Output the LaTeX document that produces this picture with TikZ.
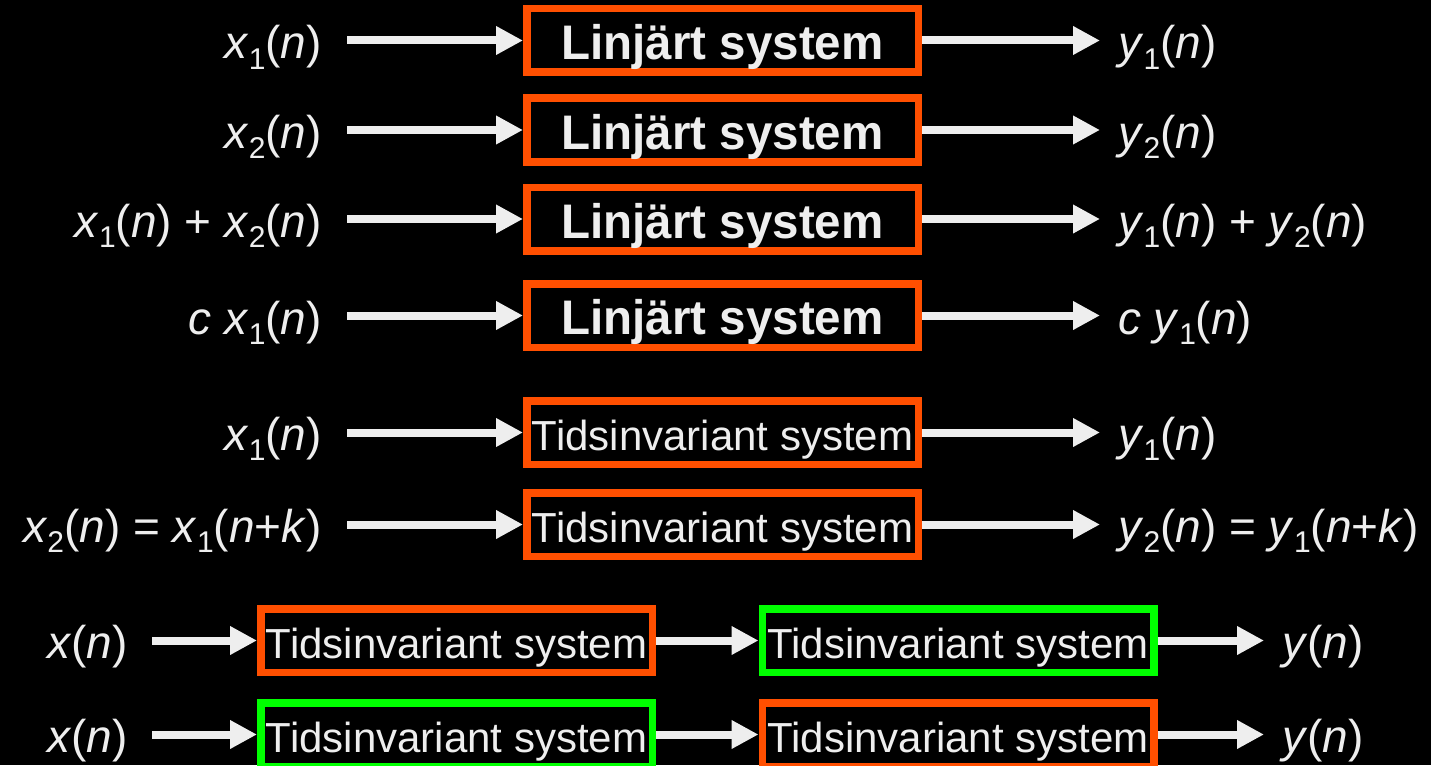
\documentclass[tikz,border=0pt]{standalone}
\usepackage{fontspec}
\setmainfont{Liberation Sans}
\newfontfamily\boxbold{Liberation Sans Bold}[FakeStretch=0.98]
\usetikzlibrary{arrows.meta}
\definecolor{fg}{HTML}{EEEEEE}
\definecolor{org}{HTML}{FF4F00}
\definecolor{grn}{HTML}{00FF00}
\newcommand{\sbx}[1]{\raisebox{-0.22em}{\fontsize{30}{30}\selectfont #1}}
\newcommand{\iv}[1]{\textit{#1}}
\begin{document}
\begin{tikzpicture}[x=1pt,y=-1pt,
  sysbox/.style={line width=7.5pt, minimum width=391.5pt, minimum height=63.5pt, inner sep=0pt, text=fg},
  lin/.style={sysbox, draw=org, font=\fontsize{48.5}{50}\boxbold, text height=40pt, text depth=2pt},
  tis/.style={sysbox, font=\fontsize{42}{48}\selectfont, text height=38pt, text depth=3pt},
  lab/.style={text=fg, font=\fontsize{46}{50}\selectfont, inner sep=0pt},
  arr/.style={draw=fg, line width=8pt, -{Triangle[length=27pt,width=27pt]}},
  arrl/.style={arr, shorten <=25pt},
  arrr/.style={arr, shorten >=18pt}]
\fill[black] (0,0) rectangle (1431,765);
\useasboundingbox (0,0) rectangle (1431,765);
% rows 1-4
\foreach \i/\y/\L/\R in {
  1/40.5/{\iv{x}\sbx{1}(\iv{n})}/{\iv{y}\sbx{1}(\iv{n})},
  2/130/{\iv{x}\sbx{2}(\iv{n})}/{\iv{y}\sbx{2}(\iv{n})},
  3/219/{\iv{x}\sbx{1}(\iv{n}) + \iv{x}\sbx{2}(\iv{n})}/{\iv{y}\sbx{1}(\iv{n}) + \iv{y}\sbx{2}(\iv{n})},
  4/315.5/{\iv{c x}\sbx{1}(\iv{n})}/{\iv{c y}\sbx{1}(\iv{n})}}{
  \node[lin] (b\i) at (722.5,\y) {Linjärt system};
  \node[lab, anchor=base east] (l\i) at (322,\y+18.5) {\L};
  \node[lab, anchor=base west] (r\i) at (1118,\y+18.5) {\R};
  \draw[arrl] (l\i.east |- b\i.west) -- (b\i.west);
  \draw[arrr] (b\i.east) -- (r\i.west |- b\i.east);
}
% rows 5-6
\foreach \i/\y/\L/\R in {
  5/432.5/{\iv{x}\sbx{1}(\iv{n})}/{\iv{y}\sbx{1}(\iv{n})},
  6/524.5/{\iv{x}\sbx{2}(\iv{n}) = \iv{x}\sbx{1}(\iv{n}+\iv{k})}/{\iv{y}\sbx{2}(\iv{n}) = \iv{y}\sbx{1}(\iv{n}+\iv{k})}}{
  \node[tis, draw=org] (b\i) at (722.5,\y) {Tidsinvariant system};
  \node[lab, anchor=base east] (l\i) at (322,\y+18) {\L};
  \node[lab, anchor=base west] (r\i) at (1118,\y+18) {\R};
  \draw[arrl] (l\i.east |- b\i.west) -- (b\i.west);
  \draw[arrr] (b\i.east) -- (r\i.west |- b\i.east);
}
% rows 7-8
\foreach \i/\y/\ca/\cb in {7/640.5/org/grn, 8/734.5/grn/org}{
  \node[tis, draw=\ca] (p\i) at (456.5,\y) {Tidsinvariant system};
  \node[tis, draw=\cb] (q\i) at (958,\y) {Tidsinvariant system};
  \node[lab, anchor=base east] (l\i) at (128,\y+18) {\iv{x}(\iv{n})};
  \node[lab, anchor=base west] (r\i) at (1282,\y+18) {\iv{y}(\iv{n})};
  \draw[arr, shorten <=24pt] (l\i.east |- p\i.west) -- (p\i.west);
  \draw[arr] (p\i.east) -- (q\i.west);
  \draw[arrr] (q\i.east) -- (r\i.west |- q\i.east);
}
\end{tikzpicture}
\end{document}
